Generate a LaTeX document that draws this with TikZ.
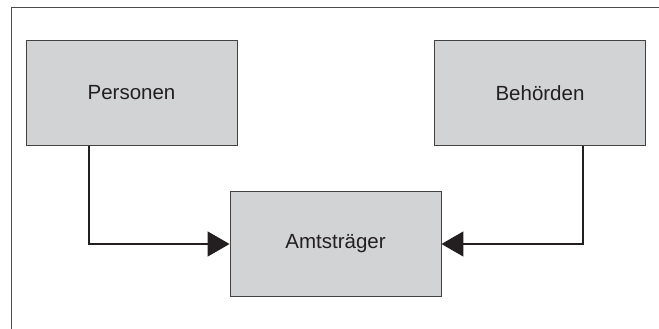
\documentclass[tikz,border=0pt]{standalone}
\usepackage{fontspec}
\setmainfont{Liberation Sans}
\usetikzlibrary{arrows.meta}
\definecolor{boxgray}{RGB}{210,211,213}
\definecolor{ink}{RGB}{35,31,32}

\begin{document}
\begin{tikzpicture}[x=1pt, y=-1pt]
		\tikzstyle{block} = [rectangle, draw=ink!85, line width=0.9pt, fill=boxgray, text=ink, minimum width=211pt, minimum height=105pt, inner sep=0pt, font=\fontsize{20.5}{24}\selectfont]
		\tikzstyle{link} = [draw=ink, line width=1.4pt, -{Triangle[length=22pt, width=25pt]}]
		\useasboundingbox (0,0) rectangle (659,329);

		% frame
		\draw[ink!80, line width=0.8pt] (11,329) -- (11,7) -- (659,7);

		% boxes
		\node[block] (personen) at (131.5, 93) {Personen};
		\node[block] (behoerden) at (540, 93) {Behörden};
		\node[block] (amt) at (335.5, 244) {Amtsträger};

		% connections
		\coordinate (p-bend) at (89, 244);
		\coordinate (b-bend) at (583, 244);
		\draw[link] (personen.south -| p-bend) -- (p-bend) -- (amt.west);
		\draw[link] (behoerden.south -| b-bend) -- (b-bend) -- (amt.east);
	\end{tikzpicture}
\end{document}
